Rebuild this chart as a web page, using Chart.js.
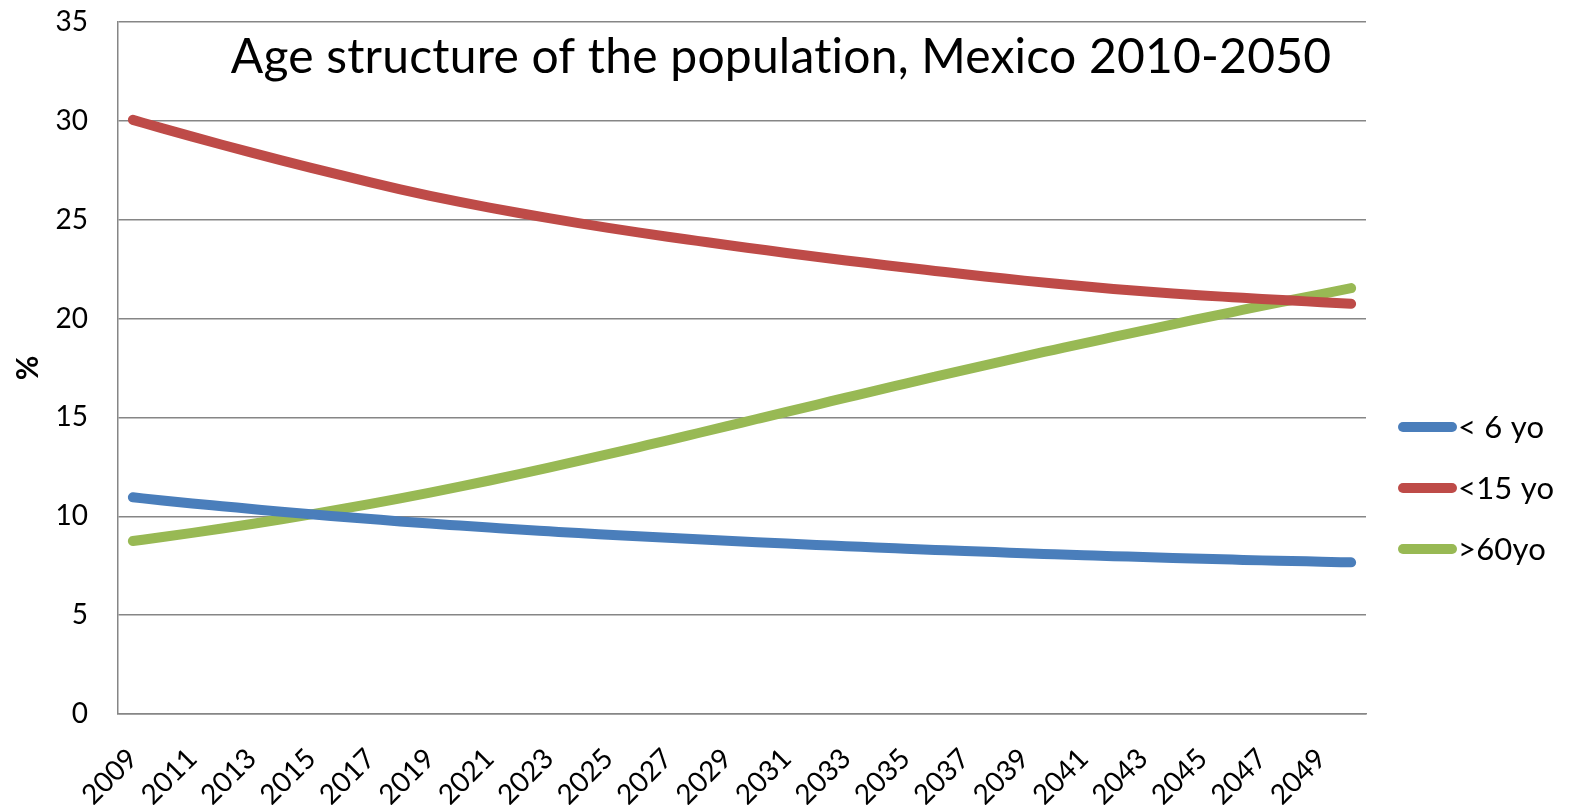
<!DOCTYPE html>
<html>
<head>
<meta charset="utf-8">
<title>Age structure of the population, Mexico 2010-2050</title>
<script src="https://cdn.jsdelivr.net/npm/chart.js@4/dist/chart.umd.min.js"></script>
<style>
    html, body { margin: 0; padding: 0; background: #fff; }
    #chartBox { width: 1576px; height: 805px; }
</style>
</head>
<body>
<div id="chartBox"><canvas id="ageChart"></canvas></div>
<script>
// years on the category axis
var years = [];
for (var y = 2009; y <= 2050; y++) years.push(String(y));

var under6 = [10.96, 10.80, 10.65, 10.51, 10.37, 10.23, 10.10, 9.98, 9.86, 9.74,
    9.63, 9.53, 9.43, 9.33, 9.24, 9.15, 9.07, 8.99, 8.91, 8.84,
    8.76, 8.69, 8.62, 8.55, 8.49, 8.42, 8.36, 8.30, 8.24, 8.19,
    8.13, 8.08, 8.03, 7.98, 7.94, 7.89, 7.85, 7.81, 7.77, 7.74,
    7.70, 7.67];
var under15 = [30.05, 29.62, 29.20, 28.79, 28.39, 28.00, 27.62, 27.25, 26.89, 26.54,
    26.21, 25.90, 25.61, 25.34, 25.08, 24.83, 24.59, 24.36, 24.14, 23.93,
    23.72, 23.52, 23.32, 23.13, 22.94, 22.76, 22.58, 22.41, 22.24, 22.08,
    21.92, 21.77, 21.63, 21.50, 21.38, 21.27, 21.17, 21.08, 20.99, 20.91,
    20.83, 20.75];
var over60 = [8.75, 8.95, 9.16, 9.38, 9.61, 9.85, 10.10, 10.36, 10.63, 10.91,
    11.20, 11.50, 11.81, 12.13, 12.46, 12.80, 13.14, 13.49, 13.84, 14.20,
    14.56, 14.92, 15.28, 15.64, 16.00, 16.36, 16.71, 17.06, 17.41, 17.75,
    18.09, 18.42, 18.75, 19.07, 19.39, 19.71, 20.02, 20.33, 20.64, 20.94,
    21.24, 21.54];

var seriesNames = ['< 6 yo', '<15 yo', '>60yo'];
var seriesColors = ['#4A7EBB', '#BE4B48', '#98B954'];
var yTicks = [0, 5, 10, 15, 20, 25, 30, 35];
var chartTitle = 'Age structure of the population, Mexico 2010-2050';

var fontFamily = 'Lato, "Open Sans", sans-serif';
var gridColor = '#868686';

var makeSet = function (idx, values) {
    return {
        label: seriesNames[idx],
        data: values,
        borderColor: seriesColors[idx],
        backgroundColor: seriesColors[idx],
        borderWidth: 10,
        borderCapStyle: 'round',
        borderJoinStyle: 'round',
        cubicInterpolationMode: 'monotone',
        pointRadius: 0,
        pointHoverRadius: 0,
        fill: false
    };
};

// title inside the plot and a legend on the right, drawn on top of the chart
var overlay = {
    id: 'overlay',
    afterDraw: function (chart) {
        var ctx = chart.ctx;
        var area = chart.chartArea;
        ctx.save();
        ctx.fillStyle = '#000';
        ctx.font = '48px ' + fontFamily;
        ctx.letterSpacing = '0.2px';
        ctx.textAlign = 'center';
        ctx.textBaseline = 'middle';
        ctx.fillText(chartTitle, 781, 58);

        var rowY = [427, 488, 549];
        ctx.font = '31px ' + fontFamily;
        ctx.textAlign = 'left';
        chart.data.datasets.forEach(function (ds, i) {
            ctx.strokeStyle = ds.borderColor;
            ctx.lineWidth = 10;
            ctx.lineCap = 'round';
            ctx.beginPath();
            ctx.moveTo(area.right + 37, rowY[i]);
            ctx.lineTo(area.right + 86, rowY[i]);
            ctx.stroke();
            ctx.fillText(ds.label, area.right + 92, rowY[i] + 1);
        });
        ctx.restore();
    }
};

var ctx = document.getElementById('ageChart').getContext('2d');
var ageChart = new Chart(ctx, {
    type: 'line',
    data: {
        labels: years,
        datasets: [makeSet(0, under6), makeSet(1, under15), makeSet(2, over60)]
    },
    options: {
        responsive: true,
        maintainAspectRatio: false,
        animation: false,
        layout: {padding: {top: 22, right: 210, left: 0, bottom: 0}},
        plugins: {
            legend: {display: false},
            title: {display: false},
            tooltip: {enabled: false}
        },
        scales: {
            x: {
                offset: true,
                grid: {display: false, drawTicks: false},
                border: {display: true, color: gridColor, width: 1.5},
                ticks: {
                    autoSkip: false,
                    maxRotation: 45,
                    minRotation: 45,
                    padding: 28,
                    color: '#000',
                    font: {family: fontFamily, size: 28},
                    callback: function (val, idx) {
                        return idx % 2 === 0 ? years[idx] : '';
                    }
                },
                afterFit: function (scale) { scale.height = 91; }
            },
            y: {
                min: 0,
                max: 35,
                afterBuildTicks: function (scale) {
                    scale.ticks = yTicks.map(function (v) { return {value: v}; });
                },
                grid: {color: gridColor, lineWidth: 1.5, drawTicks: false},
                border: {display: true, color: gridColor, width: 1.5},
                ticks: {
                    padding: 30,
                    color: '#000',
                    font: {family: fontFamily, size: 28}
                },
                title: {
                    display: true,
                    text: '%',
                    color: '#000',
                    padding: {top: 10, bottom: 0},
                    font: {family: fontFamily, size: 30, weight: 'bold'}
                },
                afterFit: function (scale) {
                    // keep the plot edges fixed; the label padding would shrink it
                    scale.width = 118;
                    scale.paddingTop = 0;
                    scale.paddingBottom = 0;
                }
            }
        }
    },
    plugins: [overlay]
});
</script>
</body>
</html>
